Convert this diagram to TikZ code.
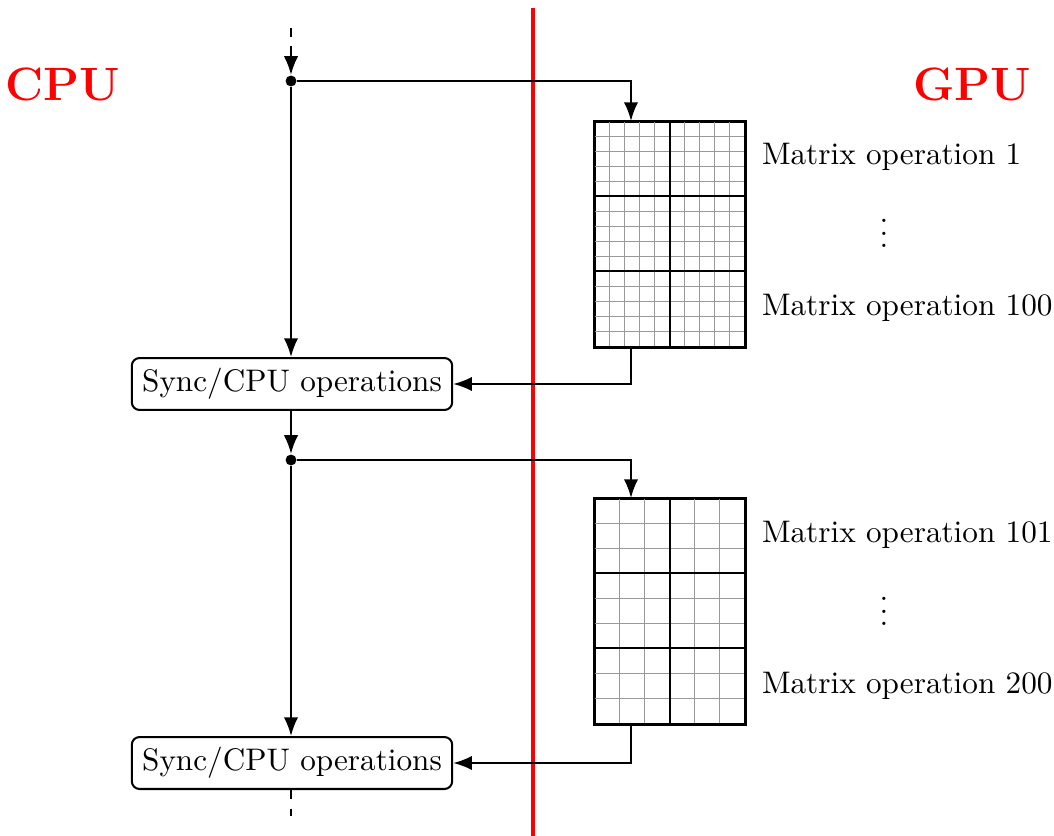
\documentclass[tikz,border=0pt]{standalone}
\usetikzlibrary{arrows.meta,calc}
\begin{document}
\begin{tikzpicture}[x=0.3206pt,y=-0.3206pt,
  wire/.style={line width=0.65pt},
  conn/.style={line width=0.65pt,-{Latex[length=6pt,width=4.6pt]}},
  syncbox/.style={draw,line width=0.65pt,rounded corners=2.5pt,inner sep=3.33pt},
  gridbox/.style={draw,line width=0.65pt,inner sep=0pt,minimum width=48.09pt,minimum height=72.135pt},
  fine/.style={black!40,line width=0.3pt},
  dotnode/.style={circle,fill,inner sep=0pt,minimum size=3.5pt},
  oplabel/.style={anchor=west},
  side/.style={red,font=\fontsize{15}{18}\selectfont\bfseries}]
\useasboundingbox (0,0) rectangle (1054,836);
% separator
\draw[red,line width=1.3pt] (533,8) -- (533,836);
\node[side] (cpu) at (63,84) {CPU};
\node[side] (gpu) at (972,84) {GPU};
% nodes
\node[dotnode] (d1) at (291,81) {};
\node[dotnode] (d2) at (291,460) {};
\node[syncbox] (s1) at (292,384) {Sync/CPU operations};
\node[syncbox] (s2) at (292,763) {Sync/CPU operations};
\node[gridbox] (g1) at (670,234.5) {};
\node[gridbox] (g2) at (670,611.5) {};
% fine grids
\foreach \i in {1,...,9}
  \draw[fine] ($(g1.north west)+(\i*15,0)$) -- ++(0,225);
\foreach \i in {1,...,14}
  \draw[fine] ($(g1.north west)+(0,\i*15)$) -- ++(150,0);
\foreach \i in {1,...,5}
  \draw[fine] ($(g2.north west)+(\i*25,0)$) -- ++(0,225);
\foreach \i in {1,...,8}
  \draw[fine] ($(g2.north west)+(0,\i*25)$) -- ++(150,0);
\foreach \g in {g1,g2}{
  \draw[wire] (\g.north) -- (\g.south);
  \draw[wire] ($(\g.north west)+(0,75)$) -- ++(150,0);
  \draw[wire] ($(\g.north west)+(0,150)$) -- ++(150,0);
  \draw[wire] (\g.north west) rectangle (\g.south east);
}
% labels
\node[oplabel] (m1) at (751,157) {Matrix operation 1};
\node (v1) at (884,224) {$\vdots$};
\node[oplabel] (m100) at (751,308) {Matrix operation 100};
\node[oplabel] (m101) at (751,535) {Matrix operation 101};
\node (v2) at (884,602) {$\vdots$};
\node[oplabel] (m200) at (751,686) {Matrix operation 200};
% coordinates
\coordinate (top) at (291,28);
\coordinate (topm) at (291,46);
\coordinate (bot) at (291,816);
\coordinate (g1in) at ($(g1.north west)+(37,0)$);
\coordinate (g1out) at ($(g1.south west)+(37,0)$);
\coordinate (g2in) at ($(g2.north west)+(37,0)$);
\coordinate (g2out) at ($(g2.south west)+(37,0)$);
% connectors
\draw[wire,dashed] (top) -- (topm);
\draw[conn] (topm) -- (d1);
\draw[conn] (d1) -- (d1 |- s1.north);
\draw[conn] (d1) -| (g1in);
\draw[conn] (g1out) |- (s1.east);
\draw[conn] (s1.south -| d2) -- (d2);
\draw[conn] (d2) -| (g2in);
\draw[conn] (d2) -- (d2 |- s2.north);
\draw[conn] (g2out) |- (s2.east);
\draw[wire,dashed] (s2.south -| d2) -- (bot);
\end{tikzpicture}
\end{document}
